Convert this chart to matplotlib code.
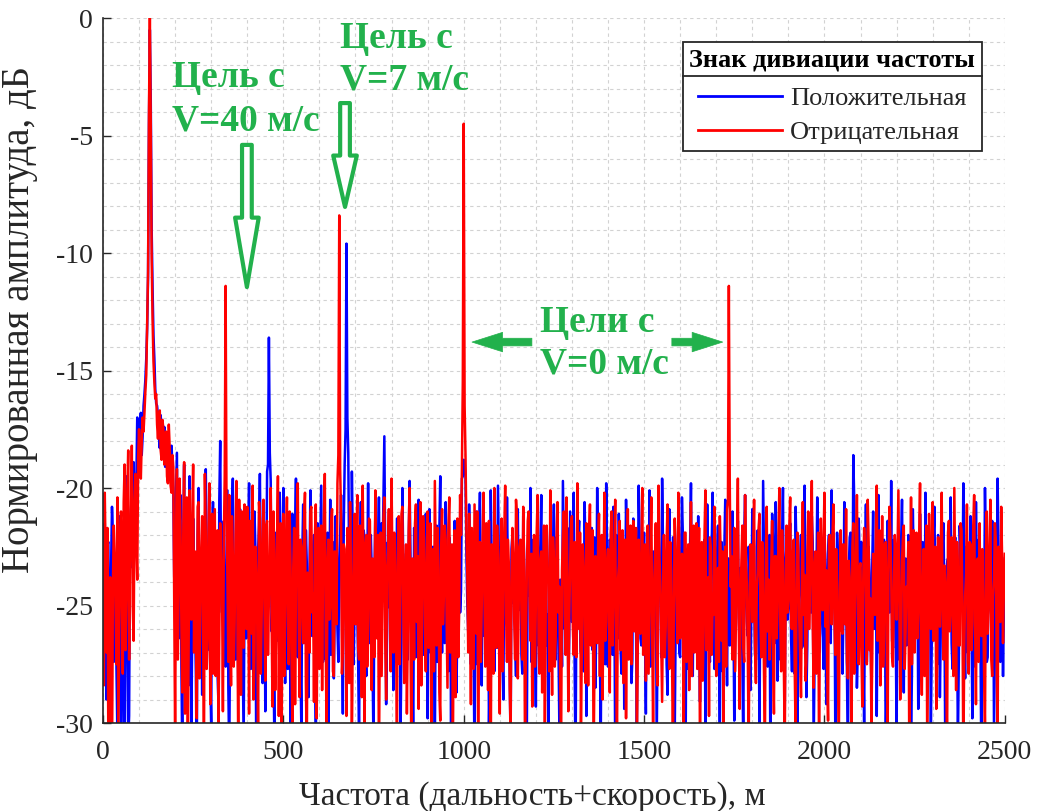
import numpy as np
import matplotlib
matplotlib.use("Agg")
import matplotlib.pyplot as plt
from matplotlib.ticker import MultipleLocator
from matplotlib.lines import Line2D


STEP_M = 5  # шаг основных отсчётов, м; промежуточные отсчёты сдвинуты на 2.5 м

# Положительная девиация (синяя), дБ, отсчёты 0, 5, ..., 2500 м
BLUE_DB = [
    -24.0, -21.5, -29.0, -22.3, -26.0, -20.8, -27.4, -23.0, -30.5, -21.2,
    -32.0, -22.6, -31.0, -19.5, -30.8, -21.8, -20.4, -18.9, -22.0, -17.0,
    -18.0, -16.8, -17.8, -16.0, -14.5, -11.0, -0.5, -9.0, -13.5, -15.8,
    -16.5, -17.8, -16.9, -18.6, -17.4, -18.9, -17.9, -19.3, -18.2, -20.0,
    -22.1, -18.5, -26.4, -20.3, -31.6, -19.0, -24.2, -27.0, -19.5, -30.2,
    -21.3, -25.5, -32.1, -20.0, -23.6, -28.8, -21.7, -19.2, -26.9, -23.0,
    -30.0, -20.6, -24.7, -22.2, -29.1, -18.0, -25.3, -21.4, -27.6, -20.1,
    -31.4, -23.3, -19.6, -26.2, -22.0, -28.5, -20.9, -24.4, -30.7, -21.6,
    -25.9, -19.8, -27.7, -23.5, -21.0, -32.0, -22.7, -19.4, -26.1, -24.0,
    -29.5, -19.3, -13.6, -19.7, -24.9, -30.6, -21.9, -26.5, -20.2, -23.7,
    -20.0, -28.3, -22.5, -25.0, -31.2, -21.1, -24.1, -19.6, -27.2, -22.9,
    -30.3, -20.7, -25.7, -23.2, -28.9, -20.1, -26.3, -22.0, -31.8, -21.5,
    -24.5, -19.9, -27.4, -22.6, -25.6, -30.0, -20.5, -23.8, -28.1, -21.2,
    -26.0, -23.0, -20.3, -29.6, -19.0, -9.6, -18.5, -22.4, -19.3, -27.5,
    -21.8, -25.2, -30.9, -20.6, -24.3, -22.1, -28.0, -19.8, -26.6, -23.4,
    -31.0, -21.0, -25.8, -20.4, -27.9, -23.1, -17.8, -29.2, -22.3, -25.1,
    -20.8, -28.6, -23.6, -21.3, -26.8, -30.4, -20.0, -24.7, -22.8, -27.3,
    -19.7, -25.4, -31.5, -22.0, -24.0, -20.5, -28.2, -23.3, -26.1, -21.1,
    -29.8, -20.9, -24.8, -22.5, -31.1, -21.6, -25.9, -19.5, -27.0, -23.9,
    -20.6, -26.4, -22.1, -30.1, -24.6, -21.4, -28.7, -23.0, -25.3, -19.6,
    -18.8, -19.5, -24.9, -20.7, -27.5, -22.4, -31.7, -21.0, -26.0, -20.2,
    -28.4, -23.7, -21.8, -25.6, -30.3, -20.1, -24.2, -27.8, -22.6, -19.9,
    -26.2, -21.5, -29.0, -23.4, -20.4, -25.1, -31.2, -22.0, -24.6, -28.0,
    -20.9, -23.9, -27.1, -21.2, -25.9, -30.6, -22.7, -20.0, -26.5, -24.3,
    -29.3, -21.9, -24.0, -20.3, -28.1, -23.2, -26.7, -31.4, -21.6, -25.5,
    -20.7, -27.3, -22.9, -30.0, -24.4, -19.7, -26.0, -22.3, -28.9, -21.0,
    -25.7, -20.2, -31.9, -23.5, -21.4, -27.0, -24.8, -20.6, -29.7, -22.5,
    -26.3, -21.7, -24.1, -28.5, -20.0, -25.2, -30.8, -22.8, -23.6, -19.8,
    -27.6, -22.2, -25.0, -20.8, -31.3, -23.8, -21.1, -26.9, -24.5, -29.4,
    -20.5, -25.8, -22.4, -28.3, -21.3, -24.9, -30.2, -19.9, -26.4, -23.1,
    -21.9, -29.6, -24.2, -20.1, -27.4, -22.7, -25.6, -31.0, -21.5, -24.0,
    -19.6, -26.7, -23.0, -28.8, -20.9, -25.3, -22.1, -30.5, -24.7, -21.4,
    -27.2, -20.4, -24.5, -31.6, -22.6, -26.1, -19.8, -28.0, -23.4, -25.0,
    -21.2, -29.1, -22.9, -24.3, -30.7, -20.7, -26.6, -23.7, -20.2, -27.7,
    -24.8, -21.6, -30.4, -22.3, -25.5, -20.5, -28.4, -23.0, -26.2, -21.0,
    -29.9, -23.6, -21.4, -26.8, -24.1, -31.2, -20.3, -25.7, -22.5, -28.6,
    -20.9, -24.6, -27.3, -21.8, -30.1, -23.2, -19.7, -26.0, -22.7, -25.4,
    -31.5, -21.1, -24.9, -20.6, -28.2, -23.9, -26.5, -20.0, -29.5, -22.4,
    -25.1, -21.5, -27.8, -23.3, -20.8, -30.9, -24.4, -22.0, -26.7, -19.9,
    -28.9, -22.6, -25.2, -21.2, -31.1, -24.0, -20.4, -27.0, -23.5, -25.9,
    -21.7, -29.2, -22.8, -26.3, -20.1, -24.7, -30.3, -21.9, -25.5, -23.1,
    -27.9, -20.6, -24.2, -31.7, -22.1, -26.9, -18.6, -25.0, -28.5, -21.3,
    -24.5, -22.4, -30.0, -20.7, -26.1, -23.6, -28.3, -21.0, -25.8, -29.7,
    -20.3, -23.8, -27.5, -22.2, -31.4, -21.4, -25.3, -19.7, -26.8, -24.1,
    -30.6, -21.8, -24.9, -20.5, -28.7, -23.0, -26.4, -22.7, -31.0, -20.9,
    -25.6, -23.4, -29.4, -21.1, -24.3, -27.2, -20.2, -25.9, -22.6, -30.4,
    -23.9, -20.8, -26.6, -22.0, -28.9, -24.6, -21.5, -31.3, -23.2, -25.1,
    -20.4, -27.7, -22.9, -25.4, -30.8, -21.6, -24.0, -19.8, -28.1, -23.5,
    -26.2, -21.2, -29.8, -23.7, -20.6, -25.7, -22.4, -31.9, -24.8, -20.0,
    -27.4, -22.8, -25.0, -21.4, -30.2, -23.3, -19.6, -26.5, -24.2, -28.0,
    -23.0,
]

# Синяя кривая, промежуточные отсчёты 2.5, 7.5, ..., 2497.5 м
BLUE_DB_MID = [
    -26.8, -24.5, -22.4, -28.2, -23.5, -21.9, -25.6, -27.7, -22.8, -26.3,
    -28.9, -25.1, -26.5, -22.6, -29.7, -20.9, -23.4, -21.4, -19.8, -18.2,
    -17.2, -18.6, -16.5, -15.4, -13.2, -4.5, -3.5, -11.5, -14.5, -16.4,
    -16.9, -18.3, -17.6, -18.0, -19.1, -17.7, -18.6, -19.7, -19.0, -23.8,
    -20.4, -24.9, -21.6, -27.6, -22.3, -25.8, -20.9, -28.4, -23.3, -26.1,
    -23.8, -27.9, -22.0, -26.3, -24.8, -21.3, -27.2, -22.7, -25.0, -28.1,
    -22.6, -26.9, -23.7, -27.8, -20.5, -24.0, -22.2, -26.7, -23.9, -28.5,
    -26.0, -21.3, -24.7, -27.3, -23.1, -25.9, -22.4, -27.6, -24.2, -26.4,
    -22.3, -25.7, -24.4, -27.9, -22.5, -26.2, -21.6, -23.5, -28.3, -22.8,
    -24.6, -19.0, -18.5, -26.1, -27.0, -22.6, -25.4, -21.7, -27.3, -22.3,
    -25.3, -23.0, -27.7, -22.4, -26.0, -23.8, -21.9, -25.6, -24.1, -27.5,
    -22.9, -26.6, -21.8, -27.0, -23.6, -25.8, -22.7, -26.9, -22.4, -24.5,
    -22.1, -25.8, -23.4, -27.3, -21.9, -24.7, -27.1, -22.3, -25.2, -23.6,
    -27.4, -22.0, -25.3, -21.6, -17.5, -17.0, -23.4, -26.8, -22.2, -24.9,
    -23.2, -27.6, -22.5, -25.5, -21.8, -26.9, -23.7, -24.8, -22.0, -27.8,
    -23.8, -25.9, -22.3, -24.6, -21.5, -20.4, -23.1, -26.2, -24.0, -22.7,
    -25.6, -22.9, -27.4, -24.1, -22.2, -26.6, -23.3, -27.9, -25.1, -22.4,
    -23.0, -26.8, -21.7, -27.2, -22.6, -25.7, -23.4, -27.1, -22.0, -25.8,
    -23.5, -27.0, -22.8, -26.2, -23.9, -27.4, -21.8, -25.0, -23.1, -26.6,
    -23.3, -27.8, -24.2, -22.6, -27.1, -23.6, -25.5, -22.1, -24.4, -19.5,
    -19.0, -22.8, -26.1, -23.6, -22.5, -26.9, -24.0, -27.5, -22.3, -25.0,
    -22.6, -26.3, -24.5, -22.0, -27.4, -23.1, -25.7, -21.9, -26.8, -23.2,
    -24.1, -27.2, -22.1, -25.3, -23.8, -27.7, -22.6, -24.9, -26.4, -22.5,
    -25.2, -22.4, -27.9, -23.0, -26.2, -22.8, -24.6, -27.4, -22.2, -25.8,
    -23.6, -26.7, -22.4, -24.8, -27.3, -22.0, -25.4, -23.3, -27.0, -22.7,
    -24.3, -22.1, -26.5, -23.9, -27.6, -22.9, -24.0, -21.7, -26.3, -23.4,
    -22.8, -27.5, -24.6, -22.2, -26.0, -23.1, -27.8, -22.4, -25.6, -24.1,
    -23.5, -26.9, -22.1, -25.9, -23.3, -27.0, -22.8, -25.1, -27.5, -22.6,
    -25.7, -22.3, -27.1, -24.4, -22.0, -26.4, -23.7, -27.9, -22.5, -24.8,
    -22.7, -26.0, -23.6, -27.3, -22.2, -25.5, -24.9, -22.0, -26.7, -23.9,
    -26.3, -22.6, -25.0, -27.6, -23.0, -24.7, -22.3, -26.5, -23.5, -27.2,
    -22.4, -25.4, -27.5, -22.8, -24.2, -26.8, -22.1, -25.9, -23.2, -27.0,
    -23.9, -22.0, -26.3, -24.3, -27.7, -22.5, -25.0, -22.9, -26.1, -24.6,
    -25.8, -23.3, -27.0, -22.2, -25.3, -23.6, -27.4, -22.4, -24.5, -26.9,
    -22.9, -26.5, -24.1, -27.8, -22.6, -25.2, -23.0, -26.7, -22.3, -24.8,
    -26.1, -22.7, -25.5, -23.4, -27.2, -22.1, -24.4, -26.3, -23.7, -25.0,
    -23.1, -27.1, -22.5, -25.7, -24.0, -26.9, -22.8, -24.6, -27.6, -22.0,
    -24.7, -22.2, -26.6, -23.8, -25.4, -27.3, -22.4, -26.0, -23.2, -25.6,
    -22.5, -26.4, -24.3, -27.9, -22.7, -25.1, -23.5, -26.8, -22.1, -24.9,
    -26.7, -23.0, -25.3, -22.3, -27.5, -24.5, -22.6, -26.2, -23.8, -27.7,
    -23.4, -25.9, -22.0, -26.6, -24.7, -22.8, -27.2, -23.1, -25.6, -22.4,
    -25.5, -22.6, -27.8, -23.5, -21.9, -26.3, -20.5, -24.2, -26.9, -23.0,
    -22.3, -26.8, -24.0, -27.4, -22.5, -25.8, -23.3, -26.0, -22.9, -24.4,
    -27.0, -22.1, -25.2, -23.9, -27.6, -22.7, -24.8, -26.5, -22.2, -25.7,
    -23.6, -27.3, -22.4, -25.0, -23.2, -26.7, -22.0, -24.5, -27.9, -23.4,
    -25.3, -22.8, -26.2, -24.1, -22.3, -27.1, -23.8, -25.5, -22.6, -26.4,
    -22.0, -25.6, -27.5, -23.3, -26.0, -22.4, -24.9, -27.7, -23.0, -25.2,
    -26.6, -23.5, -22.1, -25.8, -27.3, -22.9, -24.6, -26.2, -22.5, -27.0,
    -23.7, -25.1, -22.7, -27.6, -24.4, -22.2, -26.5, -23.6, -25.9, -22.8,
    -27.2, -23.9, -25.4, -22.0, -26.8, -24.3, -22.6, -27.4, -23.5, -25.0,
]

# Отрицательная девиация (красная), дБ, отсчёты 0, 5, ..., 2500 м
RED_DB = [
    -22.5, -20.2, -27.0, -31.5, -23.8, -32.0, -21.6, -25.3, -20.4, -26.1,
    -21.0, -27.9, -19.0, -24.6, -18.4, -22.8, -18.2, -26.5, -19.4, -23.9,
    -17.5, -19.6, -17.0, -16.8, -15.2, -10.8, 0.0, -10.2, -14.6, -16.2,
    -17.3, -16.9, -18.4, -17.1, -19.0, -17.6, -19.8, -18.3, -20.2, -19.1,
    -30.5, -19.2, -24.1, -21.8, -28.7, -18.9, -23.4, -32.0, -20.1, -25.6,
    -19.0, -22.7, -29.8, -20.6, -24.9, -21.2, -31.4, -22.0, -26.3, -19.8,
    -23.5, -27.9, -20.9, -25.1, -30.2, -21.5, -24.0, -22.3, -11.4, -23.8,
    -20.3, -28.4, -22.9, -25.7, -19.7, -31.1, -23.2, -21.0, -26.8, -24.3,
    -20.8, -29.6, -22.4, -19.9, -27.1, -23.7, -30.9, -21.3, -25.4, -20.5,
    -28.2, -21.4, -24.6, -20.0, -29.3, -22.8, -26.0, -19.5, -24.8, -31.7,
    -21.1, -25.9, -20.4, -27.5, -23.3, -30.0, -21.7, -24.2, -19.8, -28.9,
    -22.5, -26.6, -20.2, -31.3, -23.9, -21.0, -25.3, -29.1, -20.7, -24.4,
    -27.7, -21.6, -23.6, -19.4, -30.6, -22.2, -25.0, -20.9, -28.0, -23.1,
    -19.8, -8.4, -21.2, -26.9, -22.6, -29.7, -24.5, -20.6, -31.0, -22.9,
    -25.8, -20.3, -27.3, -23.0, -19.9, -30.3, -22.0, -25.5, -21.4, -28.6,
    -23.8, -20.1, -26.4, -32.2, -21.9, -24.7, -20.4, -29.0, -22.7, -25.2,
    -19.6, -27.0, -23.3, -30.8, -21.2, -24.0, -20.8, -28.3, -22.4, -26.1,
    -20.0, -31.6, -23.7, -21.5, -25.7, -29.4, -20.6, -24.3, -22.1, -27.8,
    -21.0, -25.1, -30.1, -22.6, -19.7, -26.7, -23.5, -29.9, -20.9, -24.6,
    -22.2, -28.5, -20.4, -25.9, -31.2, -21.8, -23.9, -27.2, -20.3, -19.2,
    -4.5, -18.6, -23.6, -21.1, -29.2, -24.8, -20.7, -26.2, -30.7, -22.3,
    -25.0, -20.2, -27.6, -23.1, -21.4, -31.8, -24.1, -20.0, -26.8, -22.8,
    -29.6, -21.3, -24.4, -19.9, -27.4, -23.2, -30.4, -21.7, -25.6, -20.5,
    -28.1, -22.5, -25.3, -20.8, -31.5, -23.6, -21.0, -26.5, -29.3, -22.0,
    -24.9, -20.3, -27.9, -22.7, -25.8, -30.5, -21.6, -23.8, -20.1, -28.8,
    -23.0, -26.3, -20.6, -24.2, -31.0, -22.1, -25.4, -20.4, -29.5, -23.4,
    -21.2, -27.1, -24.0, -19.8, -26.0, -30.2, -22.4, -25.2, -21.5, -28.4,
    -20.7, -24.5, -31.9, -22.9, -26.6, -21.1, -23.7, -29.0, -20.2, -25.7,
    -22.6, -28.7, -21.0, -24.8, -20.5, -30.6, -23.3, -26.9, -21.8, -25.1,
    -29.8, -20.9, -23.9, -27.5, -21.4, -24.6, -31.3, -22.2, -26.2, -20.0,
    -24.3, -28.2, -21.6, -25.5, -20.4, -30.0, -23.1, -26.7, -19.9, -24.0,
    -29.1, -22.0, -25.9, -20.7, -27.7, -23.5, -31.4, -21.3, -24.7, -20.2,
    -26.4, -22.8, -30.3, -21.9, -25.0, -28.6, -20.6, -23.8, -27.0, -21.5,
    -24.4, -31.7, -22.3, -26.1, -20.1, -25.6, -29.7, -22.6, -24.9, -20.8,
    -28.0, -23.4, -21.2, -26.5, -30.1, -22.5, -20.9, -11.4, -24.2, -27.3,
    -21.7, -25.3, -19.6, -29.4, -23.0, -26.8, -20.3, -24.1, -31.2, -22.4,
    -25.7, -20.5, -28.3, -23.6, -21.1, -27.2, -24.5, -30.8, -20.8, -23.9,
    -26.3, -21.4, -29.6, -22.9, -25.1, -20.0, -27.8, -23.3, -31.0, -21.6,
    -24.8, -20.4, -26.0, -22.2, -30.4, -21.9, -25.5, -28.9, -20.6, -23.7,
    -27.4, -21.0, -24.0, -19.7, -28.5, -22.7, -26.6, -31.6, -21.3, -25.2,
    -20.2, -23.5, -29.9, -22.0, -25.8, -20.7, -27.1, -24.4, -30.5, -21.8,
    -26.2, -22.5, -20.9, -28.1, -23.8, -31.3, -21.5, -25.0, -20.3, -27.5,
    -23.2, -29.3, -21.7, -24.6, -20.5, -26.9, -30.0, -22.8, -25.4, -19.9,
    -24.1, -28.4, -21.2, -26.4, -22.3, -31.1, -20.8, -23.6, -27.6, -22.0,
    -25.6, -20.1, -29.0, -23.1, -21.6, -26.1, -24.7, -30.7, -20.4, -23.4,
    -27.0, -21.9, -25.3, -19.8, -28.8, -22.6, -24.3, -31.5, -21.1, -26.0,
    -20.6, -23.8, -29.4, -22.1, -25.9, -20.2, -27.3, -24.0, -30.9, -21.4,
    -25.2, -22.7, -20.0, -28.6, -23.5, -26.7, -21.8, -31.8, -24.6, -20.7,
    -27.9, -22.4, -25.7, -20.3, -29.2, -23.0, -21.5, -26.3, -24.8, -30.2,
    -21.0, -25.0, -20.5, -28.0, -23.9, -22.2, -30.6, -24.5, -20.8, -26.6,
    -22.8,
]

# Красная кривая, промежуточные отсчёты 2.5, 7.5, ..., 2497.5 м
RED_DB_MID = [
    -28.4, -23.1, -21.7, -26.6, -29.8, -24.2, -22.9, -27.5, -30.6, -22.0,
    -24.8, -20.6, -26.9, -20.1, -27.3, -21.5, -25.0, -20.7, -22.3, -18.7,
    -18.9, -18.0, -17.6, -15.9, -13.0, -4.0, -4.5, -12.8, -15.5, -16.0,
    -17.9, -16.7, -18.8, -17.5, -18.1, -19.5, -17.3, -19.9, -18.6, -24.5,
    -22.6, -27.3, -19.6, -25.9, -22.1, -29.6, -20.4, -26.8, -23.7, -21.3,
    -27.0, -24.3, -20.8, -28.1, -22.6, -25.8, -19.4, -27.7, -21.9, -29.2,
    -21.1, -24.6, -28.0, -21.8, -26.3, -23.0, -29.5, -19.5, -21.0, -27.4,
    -25.5, -21.2, -27.6, -22.0, -24.9, -20.5, -28.8, -23.4, -20.7, -26.0,
    -23.9, -21.4, -26.2, -29.0, -22.5, -25.3, -20.6, -27.9, -22.2, -24.7,
    -21.6, -27.1, -23.0, -25.6, -21.0, -28.6, -22.4, -29.7, -21.5, -24.0,
    -28.0, -22.3, -24.8, -21.0, -26.9, -23.4, -29.2, -21.8, -25.4, -22.2,
    -25.1, -21.4, -28.3, -23.6, -27.0, -20.8, -24.5, -22.1, -29.8, -21.7,
    -24.0, -28.6, -21.2, -26.5, -23.3, -25.6, -21.5, -27.8, -22.7, -25.8,
    -18.6, -19.2, -27.9, -22.4, -25.2, -21.7, -28.3, -23.9, -26.0, -21.1,
    -22.7, -26.8, -21.6, -28.9, -24.1, -22.5, -27.6, -21.3, -25.7, -23.0,
    -27.2, -24.4, -22.0, -25.6, -28.0, -21.3, -26.5, -23.5, -20.9, -27.8,
    -23.7, -21.9, -26.4, -22.6, -27.5, -21.1, -25.1, -23.8, -29.6, -21.8,
    -26.5, -23.0, -27.3, -20.7, -22.9, -24.6, -28.4, -21.2, -25.9, -23.3,
    -26.8, -21.5, -24.6, -27.8, -23.0, -21.7, -28.7, -22.5, -25.8, -21.6,
    -25.4, -21.7, -27.0, -22.4, -24.8, -28.9, -21.3, -25.2, -22.0, -15.5,
    -16.5, -21.9, -27.0, -24.5, -21.7, -27.7, -23.4, -21.0, -25.2, -27.4,
    -22.0, -24.6, -21.5, -28.6, -25.3, -22.4, -27.9, -23.1, -21.6, -25.7,
    -23.0, -27.8, -21.8, -25.4, -22.2, -28.5, -24.0, -22.9, -27.3, -21.3,
    -24.9, -22.2, -27.3, -23.5, -26.4, -21.4, -24.7, -22.8, -25.9, -27.6,
    -21.8, -26.6, -23.1, -28.7, -21.6, -25.0, -23.9, -27.8, -24.4, -22.1,
    -27.6, -22.0, -25.3, -28.1, -23.5, -21.0, -27.1, -23.6, -25.6, -21.5,
    -25.9, -22.3, -27.2, -24.4, -21.9, -26.8, -23.4, -28.3, -24.6, -22.0,
    -26.7, -21.8, -27.3, -25.0, -22.5, -28.0, -22.0, -24.1, -26.5, -23.2,
    -25.4, -21.9, -26.7, -22.6, -27.8, -24.0, -21.4, -25.0, -28.3, -22.2,
    -25.0, -27.3, -21.6, -23.8, -26.1, -21.7, -26.9, -24.5, -22.8, -27.1,
    -22.4, -25.1, -27.9, -22.9, -26.2, -24.3, -21.5, -28.4, -22.8, -26.7,
    -24.5, -27.2, -22.4, -25.8, -22.3, -27.1, -25.0, -22.9, -26.6, -22.3,
    -23.7, -25.5, -21.9, -27.4, -22.4, -24.9, -28.0, -21.6, -24.5, -27.7,
    -21.7, -25.2, -28.2, -22.0, -26.9, -23.8, -22.1, -27.1, -25.4, -22.7,
    -24.6, -27.4, -23.0, -22.7, -25.7, -27.6, -20.5, -19.8, -22.9, -25.1,
    -27.8, -22.6, -25.8, -24.7, -21.6, -27.4, -23.2, -27.0, -24.9, -22.8,
    -22.6, -26.7, -24.2, -21.7, -25.5, -22.3, -28.0, -23.0, -26.1, -27.3,
    -23.4, -27.1, -22.9, -26.4, -22.0, -25.6, -21.8, -27.6, -24.1, -25.3,
    -21.7, -25.9, -22.8, -27.6, -24.9, -22.6, -27.1, -23.6, -25.4, -28.2,
    -22.8, -26.0, -21.7, -25.7, -23.4, -27.9, -21.9, -25.1, -23.9, -22.3,
    -25.9, -27.6, -22.2, -24.1, -21.9, -25.3, -22.6, -27.7, -24.3, -26.0,
    -22.4, -25.8, -27.4, -23.1, -26.6, -22.5, -27.9, -22.8, -24.4, -23.4,
    -26.9, -24.0, -22.7, -27.5, -22.3, -24.7, -27.3, -23.7, -21.9, -26.5,
    -21.8, -25.4, -27.6, -22.4, -25.9, -23.6, -21.9, -27.2, -24.3, -22.9,
    -22.7, -24.6, -26.8, -22.2, -27.7, -24.2, -22.3, -25.8, -27.5, -21.8,
    -23.8, -26.4, -22.1, -27.0, -24.3, -28.0, -21.6, -26.6, -22.7, -24.7,
    -26.5, -22.5, -27.6, -24.6, -22.6, -25.2, -23.3, -27.9, -21.9, -26.1,
    -22.1, -28.0, -24.4, -22.3, -26.7, -21.5, -24.9, -26.9, -23.7, -27.4,
    -22.3, -26.9, -21.6, -25.6, -23.1, -27.4, -25.2, -22.6, -27.8, -23.0,
    -26.2, -22.6, -27.3, -24.6, -21.5, -27.5, -22.5, -25.7, -23.0, -24.2,
]

SERIES_NAMES = ["Положительная", "Отрицательная"]
LEGEND_TITLE = "Знак дивиации частоты"
X_LABEL = "Частота (дальность+скорость), м"
Y_LABEL = "Нормированная амплитуда, дБ"
X_TICKS = [0, 500, 1000, 1500, 2000, 2500]
Y_TICKS = [0, -5, -10, -15, -20, -25, -30]

GREEN = "#22b14c"
DARK = "#262626"


def merge(main_vals, mid_vals):
    # основные отсчёты на сетке 0, 5, ... м, промежуточные между ними
    x_main = np.arange(len(main_vals)) * STEP_M
    x_mid = x_main[:-1] + STEP_M / 2
    x = np.empty(len(main_vals) + len(mid_vals))
    y = np.empty_like(x)
    x[0::2], x[1::2] = x_main, x_mid
    y[0::2], y[1::2] = main_vals, mid_vals
    return x, y


def main() -> None:
    plt.rcParams["font.family"] = ["Liberation Serif", "DejaVu Serif"]
    plt.rcParams["axes.unicode_minus"] = False

    xb, yb = merge(BLUE_DB, BLUE_DB_MID)
    xr, yr = merge(RED_DB, RED_DB_MID)

    fig = plt.figure(figsize=(10.39, 8.11), dpi=100)
    ax = fig.add_axes([0.0991, 0.1085, 0.868, 0.8693])

    ax.plot(xb, yb, color="blue", lw=1.8, label=SERIES_NAMES[0])
    ax.plot(xr, yr, color="red", lw=1.8, label=SERIES_NAMES[1])

    ax.set_xlim(0, 2500)
    ax.set_ylim(-30, 0)
    ax.set_xticks(X_TICKS)
    ax.set_yticks(Y_TICKS)
    ax.xaxis.set_minor_locator(MultipleLocator(100))
    ax.yaxis.set_minor_locator(MultipleLocator(1))
    ax.grid(True, which="both", linestyle=(0, (3, 3)), color="#d2d2d2", lw=0.8)
    ax.set_axisbelow(True)
    ax.tick_params(which="major", direction="in", length=6, width=1,
                   color=DARK, labelsize=20, labelcolor=DARK)
    ax.tick_params(axis="x", which="major", pad=12)
    ax.tick_params(axis="y", which="major", pad=7)
    ax.tick_params(which="minor", length=0)
    for side in ("top", "right"):
        ax.spines[side].set_visible(False)
    for side in ("left", "bottom"):
        ax.spines[side].set_color(DARK)
        ax.spines[side].set_linewidth(1.2)

    ax.set_xlabel(X_LABEL, fontsize=24, color=DARK)
    ax.xaxis.set_label_coords(0.476, -0.082)
    ax.set_ylabel(Y_LABEL, fontsize=28, color=DARK)
    ax.yaxis.set_label_coords(-0.072, 0.572)

    # подписи целей
    notes = [
        ("Цель с", "V=40 м/с", 191, -2.94, -4.77),
        ("Цель с", "V=7 м/с", 657, -1.28, -3.06),
        ("Цели с", "V=0 м/с", 1211, -13.36, -15.11),
    ]
    for line1, line2, xt, y1, y2 in notes:
        for txt, yt in ((line1, y1), (line2, y2)):
            ax.text(xt, yt, txt, color=GREEN, fontsize=27, fontweight="bold",
                    va="baseline", ha="left")

    for xa, y_tail, y_tip, hl in [(399, -5.40, -11.45, 50), (671, -3.62, -8.04, 37)]:
        style = f"simple,head_length={hl},head_width=17,tail_width=7"
        ax.annotate("", xy=(xa, y_tip), xytext=(xa, y_tail),
                    arrowprops=dict(arrowstyle=style, fc="white", ec=GREEN, lw=3,
                                    shrinkA=0, shrinkB=0, mutation_scale=1))

    solid = "simple,head_length=22,head_width=14,tail_width=5.5"
    for x_tail, x_tip in [(1189, 1023), (1577, 1718)]:
        ax.annotate("", xy=(x_tip, -13.79), xytext=(x_tail, -13.79),
                    arrowprops=dict(arrowstyle=solid, fc=GREEN, ec=GREEN, lw=0.5,
                                    shrinkA=0, shrinkB=0, mutation_scale=1))

    leg = ax.legend(title=LEGEND_TITLE, loc="upper right",
                    bbox_to_anchor=(0.9745, 0.966), borderaxespad=0,
                    fontsize=19, title_fontproperties={"size": 19, "weight": "bold"},
                    handlelength=3.2, handletextpad=0.3, labelspacing=0.4,
                    borderpad=0.25, frameon=True, fancybox=False,
                    edgecolor=DARK, framealpha=1, labelcolor=DARK)
    leg.get_frame().set_linewidth(1.3)
    leg._legend_box.sep = 11
    for h in leg.legend_handles:
        h.set_linewidth(2)

    # разделитель под заголовком легенды
    fig.canvas.draw()
    frame_bb = leg.get_frame().get_window_extent()
    title_bb = leg.get_title().get_window_extent()
    inv = fig.transFigure.inverted()
    (fx0, fy), (fx1, _) = inv.transform([(frame_bb.x0, title_bb.y0 - 4),
                                         (frame_bb.x1, title_bb.y0 - 4)])
    fig.add_artist(Line2D([fx0, fx1], [fy, fy], color=DARK, lw=1.3,
                          transform=fig.transFigure))

    fig.savefig("out.png", dpi=100)
    plt.close(fig)


if __name__ == "__main__":
    main()
